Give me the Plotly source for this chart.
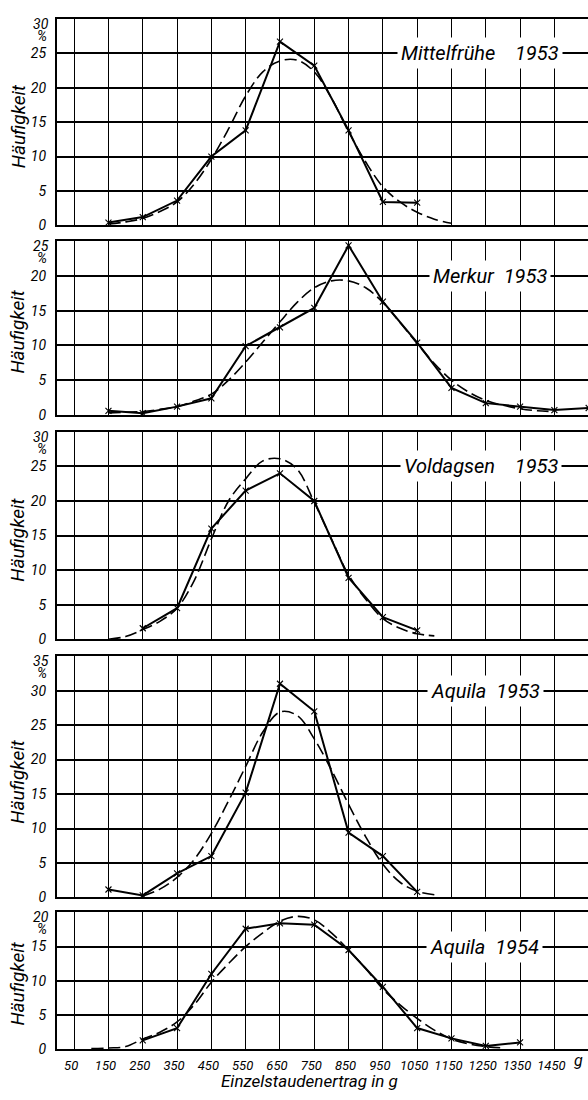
import plotly.graph_objects as go

# ---------------- data ----------------
x_classes = [50, 150, 250, 350, 450, 550, 650, 750, 850, 950, 1050, 1150, 1250, 1350, 1450, 1550]
x_ticktext = ["50", "150", "250", "350", "450", "550", "650", "750", "850", "950",
              "1050", "1150", "1250", "1350", "1450", ""]

# Mittelfrühe 1953
mf_x = [150, 250, 350, 450, 550, 650, 750, 850, 950, 1050]
mf_y = [0.4, 1.2, 3.6, 10.0, 13.8, 26.7, 23.2, 13.8, 3.4, 3.3]
mf_fit_x = [150, 200, 250, 300, 350, 400, 450, 500, 550, 600, 650, 700, 750, 800, 850,
            900, 950, 1000, 1050, 1100, 1150]
mf_fit_y = [0.2, 0.5, 1.0, 2.0, 3.4, 6.0, 9.6, 14.0, 18.8, 22.3, 23.9, 24.0, 22.3, 18.5, 13.6,
            9.2, 5.6, 3.4, 1.9, 0.9, 0.3]

# Merkur 1953
mk_x = [150, 250, 350, 450, 550, 650, 750, 850, 950, 1050, 1150, 1250, 1350, 1450, 1550]
mk_y = [0.6, 0.25, 1.2, 2.4, 9.9, 12.6, 15.4, 24.4, 16.3, 10.4, 3.9, 1.7, 1.2, 0.7, 1.0]
mk_fit_x = [150, 200, 250, 300, 350, 400, 450, 500, 550, 600, 650, 700, 750, 800, 850, 900,
            950, 1000, 1050, 1100, 1150, 1200, 1250, 1300, 1350, 1400, 1450]
mk_fit_y = [0.3, 0.4, 0.5, 0.8, 1.2, 2.0, 3.0, 5.0, 7.6, 10.5, 13.4, 16.2, 18.3, 19.3, 19.3, 18.3,
            16.2, 13.3, 10.3, 7.4, 5.0, 3.3, 2.1, 1.4, 0.9, 0.6, 0.5]

# Voldagsen 1953
vd_x = [250, 350, 450, 550, 650, 750, 850, 950, 1050]
vd_y = [1.6, 4.5, 16.0, 21.5, 24.0, 20.0, 8.9, 3.2, 1.3]
vd_fit_x = [150, 200, 250, 300, 350, 400, 450, 500, 550, 600, 650, 700, 750, 800, 850, 900,
            950, 1000, 1050, 1100]
vd_fit_y = [0.0, 0.4, 1.4, 2.6, 4.5, 8.5, 14.5, 20.0, 23.2, 25.8, 26.1, 24.6, 19.8, 14.5, 9.3, 5.8,
            3.0, 1.6, 0.8, 0.5]

# Aquila 1953
aq3_x = [150, 250, 350, 450, 550, 650, 750, 850, 950, 1050]
aq3_y = [1.15, 0.3, 3.5, 6.0, 15.2, 31.0, 27.0, 9.4, 6.0, 0.8]
aq3_fit_x = [250, 300, 350, 400, 450, 500, 550, 600, 650, 700, 750, 800, 850, 900, 950, 1000,
             1050, 1100]
aq3_fit_y = [0.2, 1.2, 2.9, 5.5, 9.3, 14.0, 19.0, 24.0, 26.9, 26.4, 23.0, 18.5, 13.5, 8.8, 4.8, 2.2,
             0.9, 0.4]

# Aquila 1954
aq4_x = [250, 350, 450, 550, 650, 750, 850, 950, 1050, 1150, 1250, 1350]
aq4_y = [1.3, 3.1, 11.0, 17.6, 18.4, 18.2, 14.5, 9.1, 3.1, 1.6, 0.5, 1.0]
aq4_fit_x = [100, 150, 200, 250, 300, 350, 400, 450, 500, 550, 600, 650, 700, 750, 800, 850,
             900, 950, 1000, 1050, 1100, 1150, 1200, 1250, 1300]
aq4_fit_y = [0.1, 0.2, 0.4, 1.5, 2.5, 4.0, 6.5, 9.8, 12.5, 15.0, 17.0, 18.7, 19.4, 18.9, 17.0, 14.5,
             11.8, 8.8, 6.5, 4.5, 2.8, 1.5, 0.8, 0.4, 0.2]

NB = "\u00a0"
panel_names = ["Mittelfrühe" + NB * 4 + "1953", "Merkur" + NB * 2 + "1953",
               "Voldagsen" + NB * 4 + "1953", "Aquila" + NB * 2 + "1953", "Aquila" + NB * 2 + "1954"]
panel_ymax = [30, 25, 30, 35, 20]
panel_label_y = [25, 20, 25, 30, 15]
panel_label_x = [1233, 1262, 1236, 1248, 1245]

series = [(mf_x, mf_y, mf_fit_x, mf_fit_y), (mk_x, mk_y, mk_fit_x, mk_fit_y),
          (vd_x, vd_y, vd_fit_x, vd_fit_y), (aq3_x, aq3_y, aq3_fit_x, aq3_fit_y),
          (aq4_x, aq4_y, aq4_fit_x, aq4_fit_y)]

# ---------------- layout geometry (pixels) ----------------
W, H = 588, 1100
panel_px = [(19, 227), (243, 418), (435, 644), (661, 904), (919, 1057)]

FONT = "Roboto, Liberation Sans, sans-serif"

fig = go.Figure()
layout = dict(width=W, height=H, margin=dict(l=57, r=0, t=0, b=0),
              paper_bgcolor="white", plot_bgcolor="white", showlegend=False,
              font=dict(family=FONT, color="black"))
annotations = []

for i, ((sx, sy, fx, fy), name, ymax, ly, lx, (top, bot)) in enumerate(
        zip(series, panel_names, panel_ymax, panel_label_y, panel_label_x, panel_px), start=1):
    xa = "x" if i == 1 else f"x{i}"
    ya = "y" if i == 1 else f"y{i}"
    fig.add_trace(go.Scatter(x=fx, y=fy, mode="lines", xaxis=xa, yaxis=ya,
                             line=dict(color="black", width=1.6, dash="12px,5px", shape="spline", smoothing=1.0),
                             hoverinfo="skip"))
    fig.add_trace(go.Scatter(x=sx, y=sy, mode="lines+markers", xaxis=xa, yaxis=ya,
                             line=dict(color="black", width=2),
                             marker=dict(symbol="x-thin", size=6, line=dict(color="black", width=1.1)),
                             hoverinfo="skip"))
    dom = [1 - bot / H, 1 - top / H]
    xkey = "xaxis" if i == 1 else f"xaxis{i}"
    ykey = "yaxis" if i == 1 else f"yaxis{i}"
    layout[xkey] = dict(domain=[0, 1], anchor=ya, range=[0, 1548],
                        tickvals=x_classes, ticktext=x_ticktext,
                        showticklabels=(i == 5), ticks="", ticklabelstandoff=3,
                        ticklabelshift=-3,
                        tickfont=dict(family=FONT, size=13, style="italic"),
                        showgrid=True, gridcolor="black", gridwidth=1.3,
                        showline=True, linecolor="black", linewidth=2.2, mirror=True,
                        zeroline=False, fixedrange=True)
    ticks_y = list(range(0, ymax, 5))
    layout[ykey] = dict(domain=dom, anchor=xa, range=[0, ymax],
                        tickvals=ticks_y + [ymax], ticktext=[str(v) for v in ticks_y] + [""],
                        ticks="", ticklabelstandoff=6,
                        tickfont=dict(family=FONT, size=14, style="italic"),
                        showgrid=True, gridcolor="black", gridwidth=1.8,
                        showline=True, linecolor="black", linewidth=2.2, mirror=False,
                        zeroline=False, fixedrange=True)
    # top value, sitting just below the top border
    annotations.append(dict(text=str(ymax), xref="paper", x=0, xanchor="right", xshift=-6,
                            yref=ya, y=ymax, yanchor="top", yshift=5, showarrow=False,
                            font=dict(family=FONT, size=14, style="italic")))
    # percent sign (fixed pixel offset below the top border)
    annotations.append(dict(text="%", xref="paper", x=0, xanchor="right", xshift=-8,
                            yref=ya, y=ymax, yanchor="middle", yshift=-17, showarrow=False,
                            font=dict(family=FONT, size=14, style="italic")))
    # y title
    annotations.append(dict(text="Häufigkeit", xref="paper", x=0, xanchor="center", xshift=-39,
                            yref=f"{ya} domain", y=0.48, yanchor="middle", textangle=-90,
                            showarrow=False, font=dict(family=FONT, size=19, style="italic")))
    # panel label
    annotations.append(dict(text=name, xref=xa, x=lx, xanchor="center",
                            yref=ya, y=ly, yanchor="middle", showarrow=False,
                            bgcolor="white", borderpad=3,
                            font=dict(family=FONT, size=20, style="italic")))

# unit "g" after last tick label and the x-axis title
annotations.append(dict(text="g", xref="x5", x=1500, xanchor="left", yref="paper", y=1 - 1068 / H,
                        yanchor="middle", showarrow=False,
                        font=dict(family=FONT, size=16, style="italic")))
annotations.append(dict(text="Einzelstaudenertrag in g", xref="paper", x=(309 - 57) / (W - 57),
                        xanchor="center", yref="paper", y=1 - 1089 / H, yanchor="middle",
                        showarrow=False, font=dict(family=FONT, size=17, style="italic")))

layout["annotations"] = annotations
fig.update_layout(**layout)
fig.write_html("out.html")
